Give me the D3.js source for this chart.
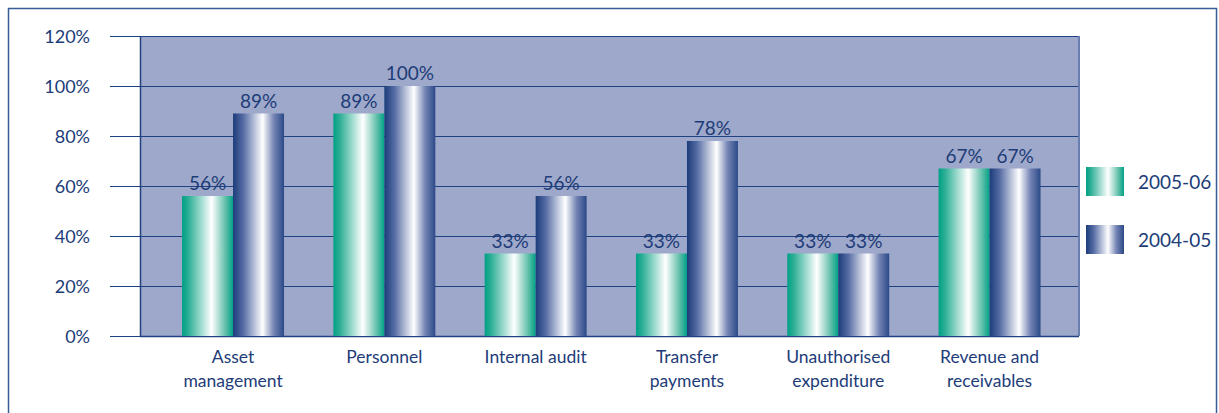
<!DOCTYPE html>
<html>
<head>
<meta charset="utf-8">
<script src="https://cdn.jsdelivr.net/npm/d3@7"></script>
<style>
  html, body { margin: 0; padding: 0; background: #fff; }
  svg text { font-family: "Lato", "DejaVu Sans", sans-serif; fill: #1d3c78; }
</style>
</head>
<body>
<svg id="chart" width="1219" height="413"></svg>
<script>
// Share of findings resolved, by audit area
const categories = [
  ["Asset", "management"],
  ["Personnel"],
  ["Internal audit"],
  ["Transfer", "payments"],
  ["Unauthorised", "expenditure"],
  ["Revenue and", "receivables"]
];
const series = ["2005-06", "2004-05"];
const values2005 = [56, 89, 33, 33, 33, 67];
const values2004 = [89, 100, 56, 78, 33, 67];
const yTicks = [0, 20, 40, 60, 80, 100, 120];

const svg = d3.select("#chart");
const defs = svg.append("defs");

// Cylindrical shading for each series
const gradients = [
  { id: "g2005", stops: [[0, "#00a085"], [0.12, "#2aae94"], [0.58, "#ffffff"], [0.85, "#63c0aa"], [1, "#00a287"]] },
  { id: "g2004", stops: [[0, "#1b3c7a"], [0.2, "#566ca4"], [0.58, "#ffffff"], [0.8, "#7484b4"], [1, "#2b4a88"]] }
];
gradients.forEach(g => {
  const lg = defs.append("linearGradient").attr("id", g.id)
    .attr("x1", "0%").attr("x2", "100%").attr("y1", "0%").attr("y2", "0%");
  g.stops.forEach(([o, c]) => lg.append("stop").attr("offset", o).attr("stop-color", c));
});

// Outer frame
svg.append("rect").attr("x", 8.5).attr("y", 8.5).attr("width", 1208).attr("height", 420)
  .attr("fill", "none").attr("stroke", "#3a5c96").attr("stroke-width", 1.5);

const plot = { left: 140, right: 1079, top: 36, bottom: 336 };
const y = d3.scaleLinear().domain([0, 120]).range([plot.bottom, plot.top]);
const keys = categories.map(c => c.join(" "));
const x = d3.scaleBand().domain(keys).range([157.4, 1065.2]).paddingInner(0.326).paddingOuter(0.163);
const xs = d3.scaleBand().domain(series).range([0, x.bandwidth()]);

// Back wall
svg.append("rect").attr("x", plot.left).attr("y", plot.top)
  .attr("width", plot.right - plot.left).attr("height", plot.bottom - plot.top)
  .attr("fill", "#9ea8ca");

// Y axis labels
const yAxis = d3.axisLeft(y).tickValues(yTicks).tickFormat(d => d + "%").tickSize(0).tickPadding(0);
const gy = svg.append("g").attr("transform", `translate(90,0)`).call(yAxis);
gy.select(".domain").remove();
gy.selectAll("text").attr("font-size", 18).attr("dx", 0).attr("dy", "0.36em")
  .style("font-family", "Lato, sans-serif").style("fill", "#1d3c78");

// Gridlines with tick stubs to the left of the wall
svg.append("g").selectAll("line").data(yTicks).join("line")
  .attr("x1", 110).attr("x2", plot.right)
  .attr("y1", d => y(d) + 0.5).attr("y2", d => y(d) + 0.5)
  .attr("stroke", "#1f4282").attr("stroke-width", 1.2);

// Wall edges
svg.append("line").attr("x1", plot.left + 0.5).attr("x2", plot.left + 0.5)
  .attr("y1", plot.top).attr("y2", plot.bottom + 1).attr("stroke", "#1f4282").attr("stroke-width", 1.5);
svg.append("line").attr("x1", plot.right).attr("x2", plot.right)
  .attr("y1", plot.top).attr("y2", plot.bottom).attr("stroke", "#6a7fb0").attr("stroke-width", 2);
svg.append("line").attr("x1", plot.left).attr("x2", plot.right)
  .attr("y1", plot.bottom + 0.5).attr("y2", plot.bottom + 0.5).attr("stroke", "#1f4282").attr("stroke-width", 1.5);

// Bars
const rows = keys.map((k, i) => ({ key: k, vals: [values2005[i], values2004[i]] }));
const groups = svg.append("g").selectAll("g").data(rows).join("g")
  .attr("transform", d => `translate(${x(d.key)},0)`);
groups.selectAll("rect").data(d => d.vals.map((v, j) => ({ s: series[j], v, j })))
  .join("rect")
  .attr("x", d => xs(d.s)).attr("width", xs.bandwidth())
  .attr("y", d => y(d.v)).attr("height", d => y(0) - y(d.v))
  .attr("fill", d => `url(#${gradients[d.j].id})`);
groups.selectAll("text.val").data(d => d.vals.map((v, j) => ({ s: series[j], v })))
  .join("text").attr("class", "val")
  .attr("x", d => xs(d.s) + xs.bandwidth() / 2).attr("y", d => y(d.v) - 6)
  .attr("text-anchor", "middle").attr("font-size", 19).text(d => d.v + "%");

// Category labels
const cl = svg.append("g").selectAll("text").data(categories).join("text")
  .attr("x", (d, i) => x(keys[i]) + x.bandwidth() / 2)
  .attr("y", 363).attr("text-anchor", "middle").attr("font-size", 17.5);
cl.selectAll("tspan").data(d => d).join("tspan")
  .attr("x", function () { return d3.select(this.parentNode).attr("x"); })
  .attr("dy", (d, i) => i === 0 ? 0 : 24).text(d => d);

// Legend
const legend = svg.append("g").selectAll("g").data(series).join("g")
  .attr("transform", (d, i) => `translate(1086,${167 + i * 58})`);
legend.append("rect").attr("width", 38).attr("height", 29)
  .attr("fill", (d, i) => `url(#${gradients[i].id})`);
legend.append("text").attr("x", 52).attr("y", 15).attr("dy", "0.36em")
  .attr("font-size", 19).text(d => d);
</script>
</body>
</html>
